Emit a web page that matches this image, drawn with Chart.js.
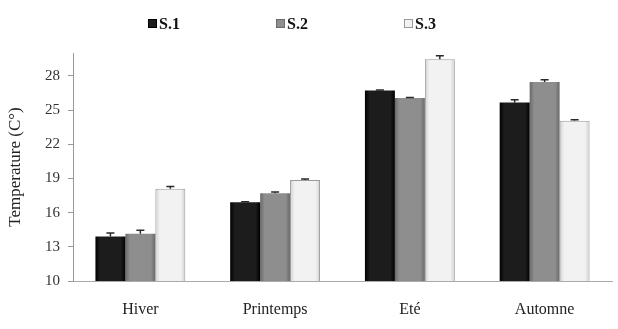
<!DOCTYPE html>
<html>
<head>
<meta charset="utf-8">
<script src="https://cdn.jsdelivr.net/npm/chart.js@4.4.1/dist/chart.umd.min.js"></script>
<style>
  html, body { margin: 0; padding: 0; background: #fff; }
  #wrap { width: 618px; height: 329px; position: relative; }
</style>
</head>
<body>
<div id="wrap"><canvas id="myChart" width="618" height="329"></canvas></div>
<script>
var saisons = ["Hiver", "Printemps", "Eté", "Automne"];
var s1 = [13.9, 16.9, 26.7, 25.65];
var s2 = [14.15, 17.7, 26.05, 27.45];
var s3 = [18.1, 18.85, 29.45, 24.05];
var errS1 = [0.3, 0.05, 0.05, 0.25];
var errS2 = [0.3, 0.1, 0.05, 0.2];
var errS3 = [0.2, 0.1, 0.3, 0.1];
var yTicks = [10, 13, 16, 19, 22, 25, 28];
var serieNoms = ["S.1", "S.2", "S.3"];

// couleurs : bord, centre, contour
var teintes = [
    ["#000000", "#1c1c1c", "#000000"],
    ["#6a6a6a", "#8e8e8e", "#6a6a6a"],
    ["#cfcfcf", "#f2f2f2", "#9a9a9a"]
];

function degrade(i) {
    return function(c) {
        var el = c.element;
        if (!el || !el.width || !c.chart.chartArea) return teintes[i][1];
        var x0 = el.x - el.width / 2, x1 = el.x + el.width / 2;
        var g = c.chart.ctx.createLinearGradient(x0, 0, x1, 0);
        g.addColorStop(0, teintes[i][0]);
        g.addColorStop(0.15, teintes[i][1]);
        g.addColorStop(0.85, teintes[i][1]);
        g.addColorStop(1, teintes[i][0]);
        return g;
    };
}

var barresErreur = {
    id: "barresErreur",
    afterDatasetsDraw: function(chart) {
        var ctx = chart.ctx, y = chart.scales.y;
        var errs = [errS1, errS2, errS3];
        ctx.save();
        ctx.strokeStyle = "#2a2a2a";
        ctx.lineWidth = 1.5;
        chart.data.datasets.forEach(function(ds, i) {
            chart.getDatasetMeta(i).data.forEach(function(bar, j) {
                var v = ds.data[j];
                var yt = y.getPixelForValue(v + errs[i][j]);
                var yb = y.getPixelForValue(v);
                ctx.beginPath();
                ctx.moveTo(bar.x, yb);
                ctx.lineTo(bar.x, yt);
                ctx.moveTo(bar.x - 4, yt);
                ctx.lineTo(bar.x + 4, yt);
                ctx.stroke();
            });
        });
        ctx.restore();
    }
};

var legende = {
    id: "legende",
    afterDraw: function(chart) {
        var ctx = chart.ctx;
        var xs = [148, 276, 404];
        ctx.save();
        ctx.font = "bold 16px 'Liberation Serif'";
        ctx.textBaseline = "middle";
        serieNoms.forEach(function(n, i) {
            ctx.fillStyle = teintes[i][1];
            ctx.fillRect(xs[i], 19, 9, 9);
            ctx.strokeStyle = teintes[i][2];
            ctx.lineWidth = 1;
            ctx.strokeRect(xs[i] + 0.5, 19.5, 8, 8);
            ctx.fillStyle = "#111";
            ctx.fillText(n, xs[i] + 11, 25);
        });
        ctx.restore();
    }
};

function jeu(label, data, i) {
    return {
        label: label,
        data: data,
        backgroundColor: degrade(i),
        borderColor: teintes[i][2],
        borderWidth: i === 2 ? 1 : 0,
        barPercentage: 1,
        categoryPercentage: 0.667
    };
}

var chart = new Chart(document.getElementById("myChart").getContext("2d"), {
    type: "bar",
    data: {
        labels: saisons,
        datasets: [jeu("S.1", s1, 0), jeu("S.2", s2, 1), jeu("S.3", s3, 2)]
    },
    options: {
        responsive: false,
        animation: false,
        layout: { padding: { top: 53, right: 6, bottom: 0, left: 0 } },
        plugins: { legend: { display: false }, tooltip: { enabled: false } },
        scales: {
            x: {
                afterFit: function(s) { s.height = 48; },
                grid: { display: false, drawTicks: false },
                border: { color: "#aaa", width: 1 },
                ticks: { color: "#222", padding: 19, font: { family: "'Liberation Serif'", size: 16 } }
            },
            y: {
                min: 10,
                max: 30,
                afterFit: function(s) { s.width = 73; },
                afterBuildTicks: function(s) {
                    s.ticks = yTicks.map(function(v) { return { value: v }; });
                },
                grid: { drawOnChartArea: false, color: "#999", tickLength: 5 },
                border: { color: "#999", width: 1 },
                ticks: { color: "#333", padding: 8, font: { family: "'Liberation Serif'", size: 15 } },
                title: {
                    display: true,
                    text: "Temperature (C°)",
                    color: "#222",
                    padding: { top: 5, bottom: 4 },
                    font: { family: "'Liberation Serif'", size: 17 }
                }
            }
        }
    },
    plugins: [barresErreur, legende]
});
chart.update("none");
</script>
</body>
</html>
